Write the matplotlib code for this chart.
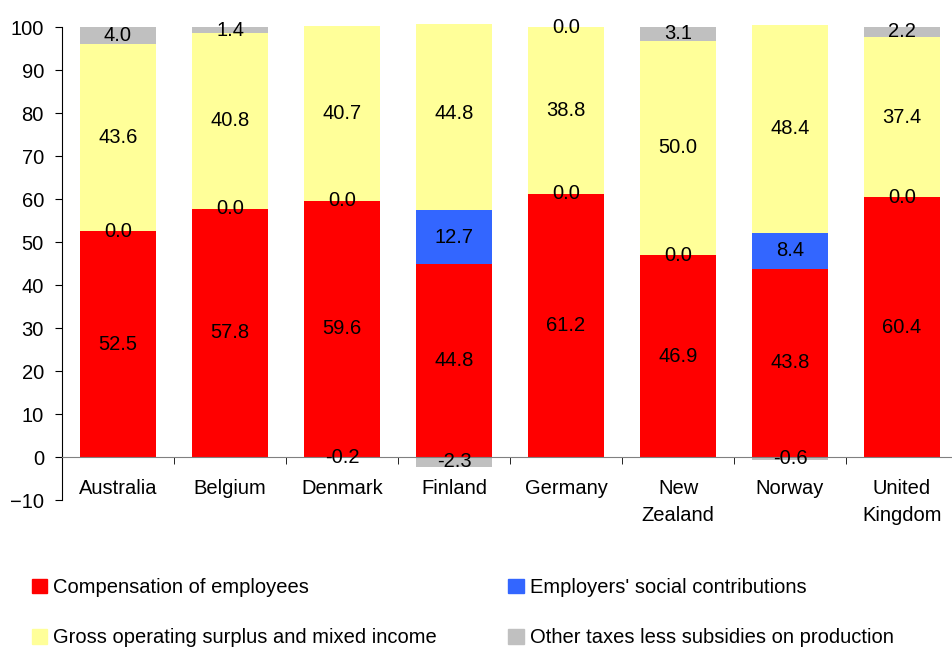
import numpy as np
import matplotlib
matplotlib.use('Agg')
import matplotlib.pyplot as plt
from matplotlib.patches import Patch

plt.rcParams['font.family'] = ['Liberation Sans', 'DejaVu Sans']

# -----------------------------
# data
countries = ['Australia', 'Belgium', 'Denmark', 'Finland', 'Germany',
             'New\nZealand', 'Norway', 'United\nKingdom']
compensation = [52.5, 57.8, 59.6, 44.8, 61.2, 46.9, 43.8, 60.4]
social_contrib = [0.0, 0.0, 0.0, 12.7, 0.0, 0.0, 8.4, 0.0]
gross_surplus = [43.6, 40.8, 40.7, 44.8, 38.8, 50.0, 48.4, 37.4]
other_taxes = [4.0, 1.4, -0.2, -2.3, 0.0, 3.1, -0.6, 2.2]

series = [
    ('Compensation of employees', compensation, '#FF0000'),
    ("Employers' social contributions", social_contrib, '#3366FF'),
    ('Gross operating surplus and mixed income', gross_surplus, '#FFFF99'),
    ('Other taxes less subsidies on production', other_taxes, '#C0C0C0'),
]
FS = 14.5

# -----------------------------
fig = plt.figure(figsize=(9.52, 6.51), dpi=100)
ax = fig.add_axes([62/952, 151/651, 896/952, 476/651])
ax.spines['top'].set_visible(False)
ax.spines['right'].set_visible(False)
ax.spines['bottom'].set_position(('data', 0))
ax.spines['bottom'].set_color('#808080')

x = np.arange(len(countries))
width = 0.67
pos_base = np.zeros(len(countries))
neg_base = np.zeros(len(countries))

for name, vals, col in series:
    vals = np.array(vals)
    bottoms = np.where(vals >= 0, pos_base, neg_base)
    ax.bar(x, vals, width, bottom=bottoms, color=col, edgecolor='none', label=name)
    for xi, b, v in zip(x, bottoms, vals):
        ax.text(xi, b + v / 2, f'{v:.1f}', ha='center', va='center',
                fontsize=FS, color='black', clip_on=False)
    pos_base = np.where(vals >= 0, pos_base + vals, pos_base)
    neg_base = np.where(vals < 0, neg_base + vals, neg_base)

ax.set_xlim(-0.5, len(countries) - 0.5)
ax.set_ylim(-10, 100.75)
ax.set_yticks(np.arange(-10, 101, 10))
ax.spines['left'].set_bounds(-10, 100)
ax.set_xticks(x)
ax.set_xticklabels(countries, fontsize=FS, linespacing=1.55)
ax.set_xticks(x[:-1] + 0.5, minor=True)
ax.tick_params(axis='x', which='major', length=0, pad=16)
ax.tick_params(axis='x', which='minor', length=5, direction='out', color='black')
ax.tick_params(axis='y', length=5, direction='out', pad=8, labelsize=FS)

handles = [Patch(color=c) for _, _, c in series]
labels = [n for n, _, _ in series]
order = [0, 2, 1, 3]
fig.legend([handles[i] for i in order], [labels[i] for i in order],
           loc='upper left', bbox_to_anchor=(24/952, 1 - 570/651), ncol=2,
           frameon=False, fontsize=FS, handlelength=0.75, handleheight=0.75,
           handletextpad=0.3, labelspacing=1.55, columnspacing=3.55, borderaxespad=0)

fig.savefig('out.png', dpi=100)
